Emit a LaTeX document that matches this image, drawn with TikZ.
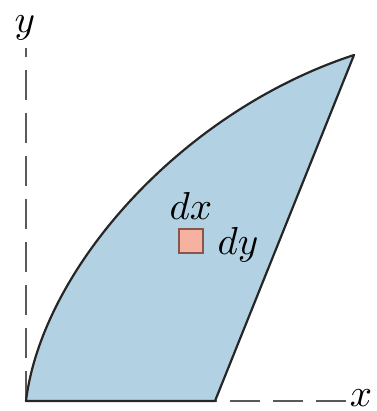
\documentclass[tikz,border=0pt]{standalone}
\begin{document}
\begin{tikzpicture}[x=1pt,y=-1pt,
  axisline/.style={draw=black!65,line width=1.8pt,dash pattern=on 30pt off 13pt},
  edgeline/.style={draw=black!85,line width=2.2pt,line join=round},
  lbl/.style={scale=3.9,inner sep=0pt},
  cell/.style={draw={rgb,255:red,140;green,85;blue,75},fill={rgb,255:red,245;green,178;blue,160},line width=1.4pt,minimum width=24pt,minimum height=24pt,inner sep=0pt}]
\useasboundingbox (0,0) rectangle (376,411);
\coordinate (O) at (26,401);
\coordinate (B) at (215,401);
\coordinate (A) at (354,55);
\coordinate (ytop) at (26,48);
\coordinate (xend) at (346,401);
% axes
\draw[axisline] (O) -- (ytop);
\draw[axisline] (xend) -- (B);
% region
\path[edgeline,fill={rgb,255:red,178;green,210;blue,228}]
  (O) -- (B) -- (A) .. controls (180,112) and (42,270) .. (O) -- cycle;
% small element
\node[cell] (sq) at (191,241) {};
\node[lbl] (dx) at (191,206) {$dx$};
\node[lbl] (dy) at (238,245) {$dy$};
% axis labels
\node[lbl] (ylab) at (25,28) {$y$};
\node[lbl] (xlab) at (361,398) {$x$};
\end{tikzpicture}
\end{document}
